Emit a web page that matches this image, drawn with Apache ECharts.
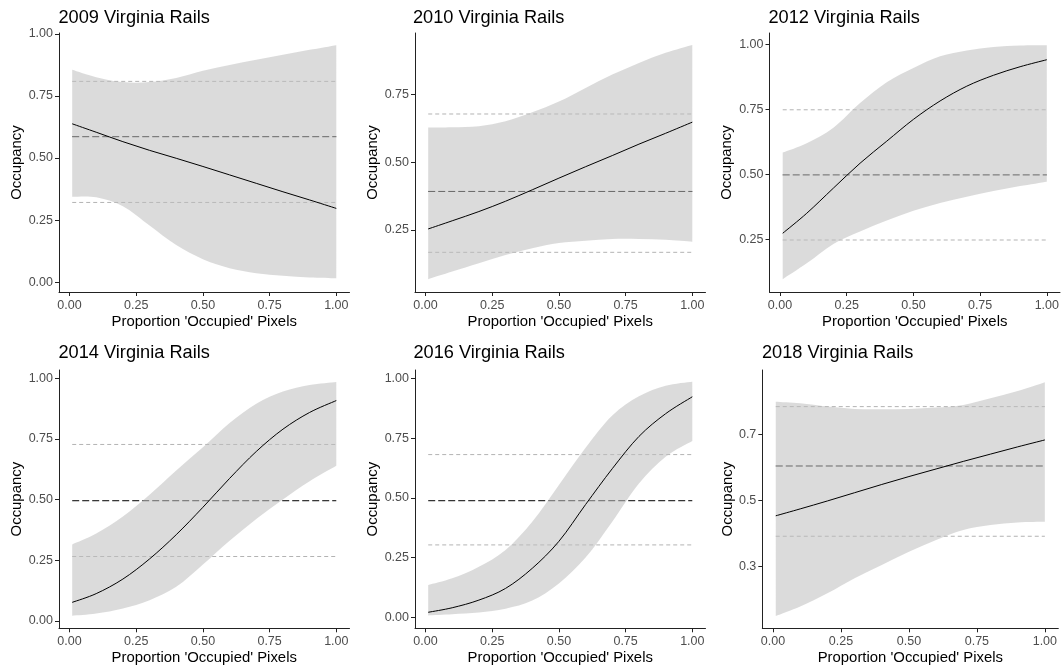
<!DOCTYPE html>
<html>
<head>
<meta charset="utf-8">
<script src="https://cdn.jsdelivr.net/npm/echarts@6/dist/echarts.min.js"></script>
<style>
  html, body { margin: 0; padding: 0; background: #ffffff; }
  #chart { width: 1062px; height: 669px; }
</style>
</head>
<body>
<div id="chart"></div>
<script>
// Predicted occupancy vs. proportion of 'occupied' pixels, one panel per survey year.
const xPoints = [0.01, 0.1, 0.2, 0.3, 0.4, 0.5, 0.6, 0.7, 0.8, 0.9, 1.0];
const panelTitles = ['2009 Virginia Rails', '2010 Virginia Rails', '2012 Virginia Rails',
                     '2014 Virginia Rails', '2016 Virginia Rails', '2018 Virginia Rails'];

// fitted occupancy and 95% band, evaluated at xPoints
const fit2009   = [0.638, 0.604, 0.566, 0.531, 0.499, 0.466, 0.432, 0.398, 0.364, 0.331, 0.297];
const lower2009 = [0.344, 0.342, 0.306, 0.228, 0.149, 0.092, 0.056, 0.036, 0.025, 0.018, 0.015];
const upper2009 = [0.856, 0.826, 0.806, 0.806, 0.823, 0.852, 0.875, 0.896, 0.916, 0.936, 0.955];

const fit2010   = [0.254, 0.284, 0.318, 0.356, 0.398, 0.441, 0.483, 0.524, 0.566, 0.606, 0.647];
const lower2010 = [0.069, 0.097, 0.128, 0.158, 0.183, 0.202, 0.211, 0.217, 0.217, 0.214, 0.207];
const upper2010 = [0.627, 0.628, 0.632, 0.650, 0.683, 0.723, 0.773, 0.822, 0.865, 0.902, 0.931];

const fit2012   = [0.273, 0.350, 0.447, 0.543, 0.628, 0.712, 0.783, 0.840, 0.882, 0.915, 0.942];
const lower2012 = [0.096, 0.157, 0.232, 0.280, 0.322, 0.360, 0.390, 0.414, 0.436, 0.455, 0.472];
const upper2012 = [0.584, 0.620, 0.680, 0.775, 0.855, 0.910, 0.955, 0.978, 0.991, 0.997, 0.998];

const fit2014   = [0.076, 0.112, 0.172, 0.255, 0.355, 0.468, 0.587, 0.698, 0.790, 0.859, 0.908];
const lower2014 = [0.021, 0.030, 0.051, 0.085, 0.140, 0.232, 0.330, 0.420, 0.500, 0.575, 0.639];
const upper2014 = [0.315, 0.360, 0.430, 0.520, 0.620, 0.715, 0.815, 0.895, 0.945, 0.972, 0.985];

const fit2016   = [0.021, 0.040, 0.072, 0.121, 0.205, 0.318, 0.472, 0.622, 0.757, 0.852, 0.923];
const lower2016 = [0.008, 0.013, 0.020, 0.036, 0.070, 0.142, 0.250, 0.400, 0.560, 0.672, 0.738];
const upper2016 = [0.135, 0.163, 0.212, 0.282, 0.400, 0.554, 0.710, 0.845, 0.925, 0.969, 0.986];

const fit2018   = [0.453, 0.474, 0.498, 0.523, 0.548, 0.572, 0.595, 0.618, 0.640, 0.662, 0.683];
const lower2018 = [0.149, 0.178, 0.218, 0.264, 0.304, 0.344, 0.380, 0.410, 0.425, 0.433, 0.435];
const upper2018 = [0.799, 0.794, 0.784, 0.777, 0.776, 0.777, 0.781, 0.789, 0.809, 0.831, 0.858];

// naive occupancy estimate with its interval (horizontal reference lines)
const meanOcc = [0.586, 0.392, 0.498, 0.495, 0.488, 0.604];
const ciLow   = [0.321, 0.168, 0.247, 0.265, 0.303, 0.391];
const ciHigh  = [0.809, 0.677, 0.749, 0.727, 0.681, 0.784];

// tick labels
const xTicks = [0, 0.25, 0.5, 0.75, 1];
const yTicks = [
  [0, 0.25, 0.5, 0.75, 1],
  [0.25, 0.5, 0.75],
  [0.25, 0.5, 0.75, 1],
  [0, 0.25, 0.5, 0.75, 1],
  [0, 0.25, 0.5, 0.75, 1],
  [0.3, 0.5, 0.7]
];
const yDecimals = [2, 2, 2, 2, 2, 1];

const fits = [fit2009, fit2010, fit2012, fit2014, fit2016, fit2018];
const lowers = [lower2009, lower2010, lower2012, lower2014, lower2016, lower2018];
const uppers = [upper2009, upper2010, upper2012, upper2014, upper2016, upper2018];

// panel placement (pixels) and axis extents
const layout = [
  { left: 59,    top: 33,  width: 290.5, height: 259,   yMin: -0.040, yMax: 1.004, yGap: 35, tLeft: 58.5,  tTop: 9 },
  { left: 415,   top: 33,  width: 290.5, height: 259,   yMin: 0.022,  yMax: 0.975, yGap: 35, tLeft: 413,   tTop: 9 },
  { left: 769.5, top: 33,  width: 290.5, height: 259,   yMin: 0.0466, yMax: 1.045, yGap: 35, tLeft: 768.5, tTop: 9 },
  { left: 59,    top: 370, width: 290.5, height: 258.3, yMin: -0.031, yMax: 1.034, yGap: 35, tLeft: 58.5,  tTop: 344 },
  { left: 415,   top: 370, width: 290.5, height: 258.3, yMin: -0.046, yMax: 1.035, yGap: 35, tLeft: 413.5, tTop: 344 },
  { left: 762.3, top: 370, width: 296,   height: 258.3, yMin: 0.112,  yMax: 0.895, yGap: 27, tLeft: 762,   tTop: 344 }
];

const FONT = "'Liberation Sans', Arial, sans-serif";
const AXIS_COLOR = '#222222';
const TICK_TEXT = '#4d4d4d';

// Cubic Bezier path through pixel points (Catmull-Rom tangents)
function curveSegments(pts) {
  let d = '';
  for (let k = 0; k < pts.length - 1; k++) {
    const p0 = pts[Math.max(k - 1, 0)], p1 = pts[k], p2 = pts[k + 1], p3 = pts[Math.min(k + 2, pts.length - 1)];
    const c1 = [p1[0] + (p2[0] - p0[0]) / 6, p1[1] + (p2[1] - p0[1]) / 6];
    const c2 = [p2[0] - (p3[0] - p1[0]) / 6, p2[1] - (p3[1] - p1[1]) / 6];
    d += ' C' + c1[0] + ' ' + c1[1] + ' ' + c2[0] + ' ' + c2[1] + ' ' + p2[0] + ' ' + p2[1];
  }
  return d;
}

function ribbonRenderer(i) {
  return function (params, api) {
    if (params.dataIndex !== 0) return null;
    const up = xPoints.map((x, k) => api.coord([x, uppers[i][k]]));
    const lo = xPoints.map((x, k) => api.coord([x, lowers[i][k]])).reverse();
    const d = 'M' + up[0][0] + ' ' + up[0][1] + curveSegments(up) +
              ' L' + lo[0][0] + ' ' + lo[0][1] + curveSegments(lo) + ' Z';
    return { type: 'path', shape: { pathData: d }, style: { fill: '#bebebe', opacity: 0.55 } };
  };
}

function fitRenderer(i) {
  return function (params, api) {
    if (params.dataIndex !== 0) return null;
    const pts = xPoints.map((x, k) => api.coord([x, fits[i][k]]));
    const d = 'M' + pts[0][0] + ' ' + pts[0][1] + curveSegments(pts);
    return { type: 'path', shape: { pathData: d }, style: { fill: null, stroke: '#000000', lineWidth: 1 } };
  };
}

const option = {
  animation: false,
  backgroundColor: '#ffffff',
  textStyle: { fontFamily: FONT },
  title: [], grid: [], xAxis: [], yAxis: [], series: []
};

layout.forEach((p, i) => {
  option.title.push({
    text: panelTitles[i], left: p.tLeft, top: p.tTop, padding: 0,
    textStyle: { fontFamily: FONT, fontSize: 18.2, fontWeight: 'normal', color: '#000000' }
  });
  option.grid.push({ left: p.left, top: p.top, width: p.width, height: p.height, containLabel: false });

  option.xAxis.push({
    type: 'value', gridIndex: i, min: -0.0395, max: 1.0495,
    name: "Proportion 'Occupied' Pixels", nameLocation: 'middle', nameGap: 22,
    nameTextStyle: { fontFamily: FONT, fontSize: 14.9, color: '#000000' },
    splitLine: { show: false },
    axisLine: { show: true, onZero: false, lineStyle: { color: AXIS_COLOR, width: 1 } },
    axisTick: { show: true, customValues: xTicks, length: 4, lineStyle: { color: AXIS_COLOR, width: 1 } },
    axisLabel: { customValues: xTicks, margin: 7, color: TICK_TEXT, fontSize: 12.5, fontFamily: FONT,
                 formatter: v => v.toFixed(2) }
  });

  option.yAxis.push({
    type: 'value', gridIndex: i, min: p.yMin, max: p.yMax,
    name: 'Occupancy', nameLocation: 'middle', nameGap: p.yGap,
    nameTextStyle: { fontFamily: FONT, fontSize: 14.9, color: '#000000' },
    splitLine: { show: false },
    axisLine: { show: true, onZero: false, lineStyle: { color: AXIS_COLOR, width: 1 } },
    axisTick: { show: true, customValues: yTicks[i], length: 4, lineStyle: { color: AXIS_COLOR, width: 1 } },
    axisLabel: { customValues: yTicks[i], margin: 6, color: TICK_TEXT, fontSize: 12.5, fontFamily: FONT,
                 formatter: v => v.toFixed(yDecimals[i]) }
  });

  const x0 = xPoints[0], x1 = xPoints[xPoints.length - 1];
  const hline = (v, color, dash) => ({
    type: 'line', xAxisIndex: i, yAxisIndex: i, silent: true, symbol: 'none', z: 2,
    data: [[x0, v], [x1, v]],
    lineStyle: { color: color, width: 1, type: dash }
  });
  option.series.push(hline(ciLow[i], '#b3b3b3', [4, 3]));
  option.series.push(hline(ciHigh[i], '#b3b3b3', [4, 3]));
  option.series.push(hline(meanOcc[i], '#000000', [7, 3]));

  // confidence ribbon between lower and upper bounds
  option.series.push({
    type: 'custom', xAxisIndex: i, yAxisIndex: i, silent: true, z: 3,
    data: xPoints.map((x, k) => [x, lowers[i][k], uppers[i][k]]),
    encode: { x: 0, y: [1, 2] },
    renderItem: ribbonRenderer(i)
  });

  // fitted occupancy curve
  option.series.push({
    type: 'custom', xAxisIndex: i, yAxisIndex: i, silent: true, z: 4,
    data: xPoints.map((x, k) => [x, fits[i][k]]),
    encode: { x: 0, y: 1 },
    renderItem: fitRenderer(i)
  });
});

const chart = echarts.init(document.getElementById('chart'), null, { renderer: 'canvas' });
chart.setOption(option);
</script>
</body>
</html>
